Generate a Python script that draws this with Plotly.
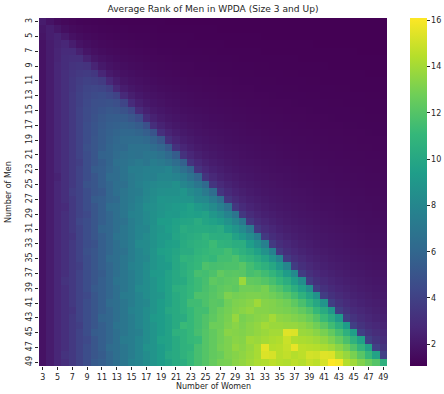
import plotly.graph_objects as go

women = [3, 4, 5, 6, 7, 8, 9, 10, 11, 12, 13, 14, 15, 16, 17, 18, 19, 20, 21, 22, 23, 24, 25, 26,
         27, 28, 29, 30, 31, 32, 33, 34, 35, 36, 37, 38, 39, 40, 41, 42, 43, 44, 45, 46, 47, 48, 49]
men = [3, 4, 5, 6, 7, 8, 9, 10, 11, 12, 13, 14, 15, 16, 17, 18, 19, 20, 21, 22, 23, 24, 25, 26,
       27, 28, 29, 30, 31, 32, 33, 34, 35, 36, 37, 38, 39, 40, 41, 42, 43, 44, 45, 46, 47, 48, 49]
colorbar_ticks = [2, 4, 6, 8, 10, 12, 14, 16]

# one row per number of men, values for women = 3..49
m03 = [2.2, 1.85, 1.53, 1.39, 1.31, 1.25, 1.22, 1.19, 1.17, 1.15, 1.14, 1.12, 1.12, 1.10, 1.10, 1.09, 1.09, 1.08, 1.08, 1.08, 1.07, 1.07, 1.07, 1.07, 1.06, 1.07, 1.06, 1.06, 1.08, 1.06, 1.07, 1.06, 1.06, 1.06, 1.07, 1.06, 1.06, 1.08, 1.06, 1.06, 1.07, 1.06, 1.06, 1.06, 1.07, 1.06, 1.06]
m04 = [2.0, 2.3, 2.01, 1.65, 1.48, 1.39, 1.32, 1.28, 1.25, 1.22, 1.2, 1.18, 1.16, 1.15, 1.14, 1.13, 1.12, 1.12, 1.11, 1.1, 1.1, 1.09, 1.09, 1.09, 1.08, 1.08, 1.08, 1.07, 1.07, 1.07, 1.07, 1.06, 1.07, 1.06, 1.06, 1.06, 1.07, 1.06, 1.06, 1.06, 1.06, 1.07, 1.06, 1.06, 1.06, 1.07, 1.06]
m05 = [1.9, 2.3, 2.5, 2.15, 1.75, 1.57, 1.46, 1.39, 1.33, 1.29, 1.26, 1.24, 1.22, 1.2, 1.18, 1.17, 1.16, 1.15, 1.14, 1.13, 1.13, 1.12, 1.12, 1.11, 1.11, 1.1, 1.1, 1.09, 1.09, 1.09, 1.08, 1.08, 1.08, 1.08, 1.07, 1.07, 1.07, 1.07, 1.07, 1.07, 1.06, 1.06, 1.07, 1.06, 1.06, 1.06, 1.06]
m06 = [1.8, 2.2, 2.5, 2.7, 2.27, 1.85, 1.65, 1.53, 1.44, 1.39, 1.34, 1.31, 1.28, 1.26, 1.23, 1.22, 1.2, 1.19, 1.18, 1.17, 1.16, 1.15, 1.14, 1.14, 1.13, 1.12, 1.12, 1.12, 1.11, 1.11, 1.1, 1.1, 1.1, 1.09, 1.09, 1.09, 1.09, 1.08, 1.08, 1.08, 1.08, 1.07, 1.07, 1.07, 1.07, 1.07, 1.07]
m07 = [1.8, 2.2, 2.6, 2.9, 2.9, 2.38, 1.93, 1.72, 1.59, 1.5, 1.44, 1.39, 1.35, 1.32, 1.29, 1.27, 1.25, 1.23, 1.22, 1.2, 1.19, 1.18, 1.17, 1.17, 1.16, 1.15, 1.15, 1.14, 1.13, 1.13, 1.12, 1.12, 1.12, 1.11, 1.11, 1.1, 1.1, 1.1, 1.1, 1.09, 1.09, 1.09, 1.09, 1.08, 1.08, 1.08, 1.08]
m08 = [1.8, 2.2, 2.6, 3.0, 3.1, 3.1, 2.47, 2.01, 1.79, 1.65, 1.55, 1.48, 1.43, 1.39, 1.35, 1.32, 1.3, 1.28, 1.26, 1.25, 1.23, 1.22, 1.21, 1.2, 1.19, 1.18, 1.17, 1.16, 1.16, 1.15, 1.15, 1.14, 1.14, 1.13, 1.13, 1.12, 1.12, 1.12, 1.11, 1.11, 1.11, 1.1, 1.1, 1.1, 1.1, 1.09, 1.09]
m09 = [1.8, 2.2, 2.7, 3.0, 3.3, 3.4, 3.3, 2.56, 2.08, 1.85, 1.7, 1.6, 1.53, 1.47, 1.42, 1.39, 1.36, 1.33, 1.31, 1.29, 1.27, 1.25, 1.24, 1.23, 1.22, 1.21, 1.2, 1.19, 1.18, 1.17, 1.17, 1.16, 1.16, 1.15, 1.15, 1.14, 1.14, 1.13, 1.13, 1.12, 1.12, 1.12, 1.12, 1.11, 1.11, 1.11, 1.1]
m10 = [1.8, 2.2, 2.7, 3.1, 3.4, 3.6, 3.7, 3.5, 2.64, 2.15, 1.91, 1.75, 1.65, 1.57, 1.51, 1.46, 1.42, 1.39, 1.36, 1.33, 1.31, 1.29, 1.28, 1.26, 1.25, 1.24, 1.23, 1.22, 1.21, 1.2, 1.19, 1.18, 1.18, 1.17, 1.17, 1.16, 1.16, 1.15, 1.15, 1.14, 1.14, 1.13, 1.13, 1.13, 1.12, 1.12, 1.12]
m11 = [1.8, 2.2, 2.7, 3.1, 3.5, 3.8, 4.0, 3.9, 3.7, 2.71, 2.25, 1.96, 1.8, 1.69, 1.61, 1.55, 1.49, 1.45, 1.42, 1.39, 1.36, 1.34, 1.32, 1.3, 1.28, 1.27, 1.26, 1.25, 1.24, 1.23, 1.22, 1.21, 1.2, 1.19, 1.19, 1.18, 1.17, 1.17, 1.16, 1.16, 1.16, 1.15, 1.15, 1.14, 1.14, 1.14, 1.13]
m12 = [1.8, 2.2, 2.7, 3.1, 3.5, 3.9, 4.2, 4.3, 4.2, 3.9, 2.78, 2.27, 2.01, 1.85, 1.73, 1.65, 1.58, 1.53, 1.48, 1.44, 1.41, 1.39, 1.36, 1.34, 1.32, 1.31, 1.29, 1.28, 1.27, 1.25, 1.25, 1.23, 1.23, 1.22, 1.21, 1.2, 1.2, 1.19, 1.18, 1.18, 1.17, 1.17, 1.16, 1.16, 1.16, 1.15, 1.15]
m13 = [1.8, 2.2, 2.7, 3.1, 3.6, 4.0, 4.3, 4.5, 4.6, 4.4, 4.1, 2.85, 2.33, 2.06, 1.89, 1.78, 1.69, 1.62, 1.56, 1.51, 1.47, 1.44, 1.41, 1.39, 1.36, 1.35, 1.33, 1.31, 1.3, 1.28, 1.27, 1.26, 1.25, 1.24, 1.23, 1.23, 1.22, 1.21, 1.2, 1.2, 1.19, 1.18, 1.18, 1.18, 1.17, 1.17, 1.16]
m14 = [1.8, 2.2, 2.7, 3.1, 3.6, 4.0, 4.4, 4.7, 4.8, 4.9, 4.7, 4.2, 2.9, 2.38, 2.1, 1.93, 1.81, 1.72, 1.65, 1.59, 1.54, 1.5, 1.47, 1.44, 1.41, 1.39, 1.37, 1.35, 1.33, 1.32, 1.3, 1.29, 1.28, 1.27, 1.26, 1.25, 1.24, 1.23, 1.23, 1.22, 1.21, 1.2, 1.2, 1.19, 1.19, 1.18, 1.18]
m15 = [1.8, 2.2, 2.7, 3.1, 3.6, 4.1, 4.5, 4.8, 5.0, 5.2, 5.1, 4.9, 4.4, 2.95, 2.42, 2.15, 1.97, 1.85, 1.75, 1.68, 1.62, 1.57, 1.53, 1.49, 1.46, 1.43, 1.41, 1.39, 1.37, 1.35, 1.33, 1.32, 1.31, 1.29, 1.28, 1.27, 1.26, 1.25, 1.25, 1.24, 1.23, 1.23, 1.22, 1.21, 1.2, 1.2, 1.19]
m16 = [1.8, 2.2, 2.7, 3.1, 3.6, 4.1, 4.5, 4.9, 5.2, 5.4, 5.5, 5.4, 5.1, 4.6, 3.0, 2.47, 2.19, 2.01, 1.88, 1.79, 1.71, 1.65, 1.6, 1.55, 1.52, 1.48, 1.45, 1.43, 1.4, 1.39, 1.37, 1.35, 1.34, 1.32, 1.31, 1.3, 1.29, 1.28, 1.27, 1.26, 1.25, 1.25, 1.24, 1.23, 1.22, 1.22, 1.21]
m17 = [1.8, 2.2, 2.7, 3.1, 3.6, 4.1, 4.6, 5.0, 5.3, 5.6, 5.7, 5.8, 5.7, 5.4, 4.8, 3.05, 2.51, 2.23, 2.05, 1.92, 1.82, 1.74, 1.68, 1.62, 1.58, 1.54, 1.51, 1.48, 1.45, 1.42, 1.4, 1.39, 1.37, 1.36, 1.34, 1.33, 1.31, 1.3, 1.29, 1.28, 1.27, 1.26, 1.26, 1.25, 1.24, 1.24, 1.23]
m18 = [1.8, 2.2, 2.7, 3.1, 3.6, 4.1, 4.6, 5.0, 5.4, 5.7, 5.9, 6.1, 6.1, 5.9, 5.6, 5.0, 3.1, 2.56, 2.27, 2.08, 1.95, 1.85, 1.77, 1.7, 1.65, 1.6, 1.56, 1.53, 1.5, 1.47, 1.44, 1.42, 1.4, 1.39, 1.37, 1.36, 1.34, 1.33, 1.32, 1.31, 1.3, 1.29, 1.28, 1.27, 1.26, 1.25, 1.25]
m19 = [1.8, 2.2, 2.7, 3.1, 3.6, 4.1, 4.6, 5.1, 5.4, 5.8, 6.1, 6.3, 6.4, 6.4, 6.2, 5.8, 5.2, 3.15, 2.6, 2.31, 2.11, 1.98, 1.88, 1.8, 1.73, 1.68, 1.63, 1.58, 1.55, 1.52, 1.49, 1.46, 1.44, 1.42, 1.4, 1.39, 1.37, 1.36, 1.34, 1.33, 1.32, 1.31, 1.3, 1.29, 1.28, 1.27, 1.27]
m20 = [1.8, 2.2, 2.7, 3.1, 3.6, 4.1, 4.8, 5.1, 5.5, 5.9, 6.2, 6.2, 6.7, 6.7, 6.7, 6.4, 6.0, 5.3, 3.2, 2.64, 2.34, 2.15, 2.01, 1.91, 1.83, 1.75, 1.7, 1.65, 1.6, 1.57, 1.54, 1.51, 1.48, 1.46, 1.44, 1.42, 1.4, 1.39, 1.37, 1.36, 1.35, 1.33, 1.32, 1.31, 1.3, 1.29, 1.29]
m21 = [1.8, 2.2, 2.7, 3.1, 3.6, 4.1, 4.6, 5.1, 5.8, 5.9, 6.3, 6.6, 6.8, 6.7, 7.0, 7.0, 6.7, 6.2, 5.5, 3.25, 2.67, 2.38, 2.18, 2.04, 1.93, 1.85, 1.78, 1.72, 1.67, 1.63, 1.59, 1.56, 1.53, 1.5, 1.48, 1.45, 1.44, 1.41, 1.4, 1.39, 1.37, 1.36, 1.35, 1.34, 1.33, 1.32, 1.31]
m22 = [1.8, 2.2, 2.7, 3.1, 3.6, 3.9, 4.6, 5.1, 5.5, 5.9, 6.6, 6.7, 7.0, 7.2, 7.0, 7.4, 7.2, 6.9, 6.4, 5.7, 3.28, 2.71, 2.41, 2.21, 2.07, 1.96, 1.87, 1.8, 1.74, 1.69, 1.65, 1.61, 1.57, 1.55, 1.52, 1.49, 1.47, 1.45, 1.43, 1.42, 1.4, 1.39, 1.37, 1.36, 1.35, 1.34, 1.33]
m23 = [1.8, 2.2, 2.7, 3.1, 3.6, 4.1, 4.6, 5.4, 5.6, 6.0, 6.4, 6.8, 7.4, 7.4, 7.6, 7.7, 7.7, 7.9, 7.2, 6.6, 5.9, 3.31, 2.75, 2.44, 2.25, 2.1, 1.98, 1.89, 1.83, 1.77, 1.71, 1.67, 1.63, 1.6, 1.56, 1.54, 1.51, 1.49, 1.47, 1.45, 1.43, 1.41, 1.4, 1.39, 1.37, 1.36, 1.35]
m24 = [1.8, 2.2, 2.5, 3.1, 3.6, 4.1, 4.6, 5.1, 5.6, 6.3, 6.4, 6.8, 7.2, 7.5, 7.7, 7.6, 8.0, 8.0, 7.8, 7.4, 6.8, 6.0, 3.35, 2.78, 2.47, 2.27, 2.12, 2.01, 1.92, 1.85, 1.79, 1.73, 1.69, 1.65, 1.61, 1.58, 1.55, 1.53, 1.5, 1.48, 1.46, 1.44, 1.43, 1.41, 1.4, 1.39, 1.37]
m25 = [1.8, 2.2, 2.7, 3.1, 3.6, 4.1, 4.9, 5.1, 5.6, 6.0, 6.5, 6.6, 7.2, 7.6, 7.9, 8.1, 8.3, 8.3, 8.6, 8.0, 7.6, 7.0, 6.2, 3.38, 2.81, 2.5, 2.3, 2.15, 2.03, 1.94, 1.87, 1.81, 1.75, 1.71, 1.67, 1.63, 1.6, 1.57, 1.54, 1.52, 1.5, 1.48, 1.46, 1.44, 1.42, 1.41, 1.4]
m26 = [1.8, 2.2, 2.7, 3.1, 3.8, 4.1, 4.6, 5.1, 5.3, 6.0, 6.5, 6.9, 7.3, 7.4, 8.0, 8.3, 8.5, 8.6, 8.6, 8.9, 8.3, 7.9, 7.2, 6.4, 3.41, 2.85, 2.53, 2.33, 2.18, 2.06, 1.96, 1.89, 1.83, 1.78, 1.73, 1.69, 1.65, 1.62, 1.58, 1.56, 1.54, 1.51, 1.49, 1.47, 1.45, 1.44, 1.42]
m27 = [1.8, 2.2, 2.7, 3.1, 3.6, 4.1, 4.6, 5.4, 5.6, 6.0, 6.2, 7.0, 7.3, 7.7, 8.1, 8.4, 8.9, 8.8, 8.9, 8.9, 8.8, 8.2, 8.1, 7.4, 6.6, 3.45, 2.87, 2.56, 2.36, 2.2, 2.08, 1.98, 1.91, 1.85, 1.79, 1.75, 1.7, 1.67, 1.63, 1.6, 1.57, 1.55, 1.53, 1.51, 1.49, 1.47, 1.45]
m28 = [1.8, 2.2, 2.7, 2.9, 3.6, 4.1, 4.6, 5.1, 5.6, 6.4, 6.5, 7.0, 7.4, 7.8, 8.4, 8.5, 8.8, 9.0, 9.2, 9.3, 9.6, 9.1, 8.8, 8.3, 7.6, 6.7, 3.48, 2.9, 2.58, 2.38, 2.22, 2.1, 2.01, 1.93, 1.87, 1.81, 1.76, 1.72, 1.68, 1.65, 1.62, 1.59, 1.56, 1.54, 1.52, 1.5, 1.48]
m29 = [1.8, 2.2, 2.7, 3.1, 3.6, 4.1, 4.4, 5.1, 5.6, 6.0, 6.5, 7.0, 7.7, 7.8, 8.2, 8.6, 8.9, 9.2, 9.1, 9.5, 9.6, 9.5, 9.7, 9.0, 8.5, 7.8, 6.9, 3.52, 2.93, 2.61, 2.4, 2.25, 2.13, 2.03, 1.95, 1.89, 1.83, 1.78, 1.74, 1.7, 1.66, 1.63, 1.6, 1.58, 1.56, 1.53, 1.51]
m30 = [1.8, 2.2, 2.7, 3.1, 3.6, 4.3, 4.6, 5.1, 5.6, 6.0, 6.5, 6.7, 7.4, 7.8, 8.2, 8.6, 9.3, 9.3, 9.6, 9.8, 9.9, 10.3, 9.8, 9.6, 9.3, 8.7, 8.0, 7.1, 3.55, 2.95, 2.64, 2.42, 2.27, 2.15, 2.05, 1.97, 1.91, 1.85, 1.8, 1.75, 1.71, 1.68, 1.65, 1.62, 1.59, 1.57, 1.55]
m31 = [1.8, 2.2, 2.7, 3.1, 3.6, 4.1, 4.6, 5.1, 5.9, 6.0, 6.5, 7.0, 7.4, 7.9, 8.0, 8.7, 9.0, 9.4, 9.7, 10.3, 10.1, 10.2, 10.2, 10.1, 10.3, 9.5, 8.9, 8.2, 7.2, 3.58, 2.98, 2.67, 2.45, 2.29, 2.17, 2.07, 1.99, 1.92, 1.87, 1.82, 1.77, 1.73, 1.7, 1.66, 1.63, 1.61, 1.58]
m32 = [1.8, 2.2, 2.7, 3.1, 3.4, 4.1, 4.6, 5.1, 5.6, 6.0, 6.8, 7.0, 7.4, 7.9, 8.3, 8.7, 9.1, 9.2, 9.8, 10.1, 10.3, 10.5, 10.9, 10.5, 10.4, 10.5, 9.7, 9.1, 8.4, 7.4, 3.6, 3.0, 2.69, 2.47, 2.31, 2.19, 2.09, 2.01, 1.94, 1.88, 1.83, 1.79, 1.75, 1.71, 1.68, 1.65, 1.62]
m33 = [1.8, 2.2, 2.7, 3.1, 3.6, 4.1, 4.6, 4.9, 5.6, 6.0, 6.5, 7.0, 7.4, 8.2, 8.3, 8.7, 9.1, 9.5, 9.6, 10.2, 10.5, 10.7, 10.8, 11.3, 10.8, 10.7, 10.4, 10.4, 9.4, 8.6, 7.6, 3.63, 3.04, 2.71, 2.5, 2.33, 2.21, 2.1, 2.02, 1.96, 1.9, 1.85, 1.8, 1.76, 1.72, 1.69, 1.66]
m34 = [1.8, 2.2, 2.7, 3.1, 3.6, 4.1, 4.8, 5.1, 5.6, 6.0, 6.5, 6.7, 7.4, 7.9, 8.3, 8.8, 9.5, 9.6, 9.9, 10.3, 10.3, 10.8, 11.0, 11.2, 11.2, 11.5, 11.0, 10.6, 10.2, 9.6, 8.7, 7.7, 3.65, 3.05, 2.73, 2.51, 2.36, 2.23, 2.13, 2.05, 1.97, 1.92, 1.87, 1.82, 1.77, 1.74, 1.7]
m35 = [1.8, 2.2, 2.7, 3.1, 3.6, 4.1, 4.6, 5.1, 5.6, 6.3, 6.5, 7.0, 7.4, 7.9, 8.1, 8.8, 9.2, 9.6, 10.0, 10.8, 10.7, 11.0, 11.2, 11.0, 11.5, 11.5, 11.8, 11.2, 10.9, 10.4, 9.8, 8.9, 7.9, 3.67, 3.08, 2.76, 2.53, 2.38, 2.25, 2.15, 2.06, 1.99, 1.93, 1.88, 1.83, 1.79, 1.75]
m36 = [1.8, 2.2, 2.7, 3.1, 3.6, 3.9, 4.6, 5.1, 5.6, 6.0, 6.5, 7.0, 7.7, 7.9, 8.4, 8.8, 9.2, 9.3, 10.0, 10.4, 10.8, 11.1, 11.8, 11.6, 11.7, 11.8, 11.8, 12.1, 11.5, 11.1, 10.6, 10.0, 9.1, 8.0, 3.7, 3.1, 2.78, 2.56, 2.4, 2.27, 2.17, 2.08, 2.01, 1.95, 1.89, 1.85, 1.81]
m37 = [1.8, 2.2, 2.7, 3.1, 3.6, 4.1, 4.6, 5.1, 5.4, 6.0, 6.5, 7.0, 7.4, 7.9, 8.4, 9.1, 9.2, 9.7, 10.1, 10.5, 10.9, 11.6, 11.5, 11.8, 12.4, 12.1, 12.2, 12.1, 11.6, 11.8, 11.4, 10.9, 10.2, 9.3, 8.2, 3.73, 3.13, 2.8, 2.57, 2.42, 2.29, 2.19, 2.1, 2.03, 1.96, 1.91, 1.86]
m38 = [1.8, 2.2, 2.7, 3.3, 3.6, 4.1, 4.6, 5.1, 5.6, 6.0, 6.8, 7.0, 7.4, 7.9, 8.4, 8.8, 9.3, 9.7, 10.1, 10.2, 10.9, 11.3, 11.6, 12.3, 12.1, 12.3, 12.4, 13.8, 12.4, 12.3, 12.0, 11.6, 11.1, 10.4, 9.5, 8.4, 3.75, 3.15, 2.82, 2.6, 2.44, 2.31, 2.2, 2.11, 2.04, 1.98, 1.92]
m39 = [1.8, 2.2, 2.7, 3.1, 3.6, 4.1, 4.6, 5.3, 5.6, 6.0, 6.5, 7.0, 7.4, 8.2, 8.4, 8.8, 9.3, 9.7, 10.5, 10.6, 11.0, 11.3, 11.7, 12.0, 12.3, 12.5, 12.3, 12.8, 12.8, 12.7, 13.0, 12.3, 11.9, 11.3, 10.5, 9.6, 8.5, 3.78, 3.18, 2.85, 2.62, 2.46, 2.33, 2.22, 2.14, 2.06, 1.99]
m40 = [1.8, 2.2, 2.7, 3.1, 3.6, 4.1, 4.4, 5.1, 5.6, 6.0, 6.5, 7.3, 7.4, 7.9, 8.4, 8.8, 9.0, 9.7, 10.2, 10.6, 11.0, 11.8, 11.8, 12.1, 12.4, 13.1, 12.9, 13.0, 13.1, 13.1, 13.0, 12.8, 12.5, 12.1, 11.5, 10.7, 9.8, 8.7, 3.81, 3.2, 2.86, 2.64, 2.47, 2.34, 2.24, 2.15, 2.08]
m41 = [1.8, 2.2, 2.7, 3.1, 3.6, 4.1, 4.6, 5.1, 5.6, 6.3, 6.5, 7.0, 7.4, 7.9, 8.1, 8.8, 9.3, 9.7, 10.2, 10.6, 11.4, 11.4, 11.8, 12.2, 12.1, 12.8, 13.1, 13.2, 13.4, 13.9, 13.3, 13.2, 13.0, 12.8, 12.3, 11.7, 10.9, 10.0, 8.8, 3.83, 3.23, 2.88, 2.66, 2.49, 2.36, 2.25, 2.17]
m42 = [1.8, 2.2, 2.7, 3.1, 3.4, 4.1, 4.6, 5.1, 5.6, 6.0, 6.5, 7.0, 7.7, 7.9, 8.4, 8.8, 9.3, 10.0, 10.2, 10.6, 11.1, 11.5, 11.5, 12.2, 12.6, 12.9, 13.2, 13.4, 13.6, 13.3, 13.3, 13.2, 13.1, 13.0, 12.8, 12.4, 11.9, 11.1, 10.2, 9.0, 3.85, 3.25, 2.9, 2.67, 2.51, 2.38, 2.27]
m43 = [1.8, 2.2, 2.7, 3.1, 3.6, 4.1, 4.6, 5.1, 5.9, 6.0, 6.5, 7.0, 7.4, 7.9, 8.4, 9.1, 9.3, 9.7, 10.2, 10.3, 11.1, 11.5, 11.9, 12.3, 12.7, 13.0, 13.7, 13.0, 13.2, 13.4, 13.5, 14.0, 13.5, 13.4, 13.2, 13.0, 12.6, 12.0, 11.2, 10.3, 9.2, 3.86, 3.29, 2.93, 2.69, 2.52, 2.39]
m44 = [1.8, 2.2, 2.7, 3.1, 3.6, 3.9, 4.6, 5.1, 5.6, 6.0, 6.8, 7.0, 7.4, 7.9, 8.4, 8.8, 9.3, 9.7, 10.2, 11.2, 11.1, 11.5, 11.9, 12.7, 12.7, 13.1, 13.4, 13.1, 13.4, 13.6, 14.0, 13.8, 13.8, 13.7, 13.7, 13.5, 13.2, 12.8, 12.2, 11.4, 10.5, 9.3, 3.9, 3.3, 2.95, 2.71, 2.54]
m45 = [1.8, 2.2, 2.7, 3.1, 3.6, 4.1, 4.6, 5.4, 5.6, 6.0, 6.5, 7.0, 7.4, 7.6, 8.4, 8.8, 9.3, 9.7, 10.6, 10.7, 11.1, 11.6, 12.0, 12.4, 12.8, 13.4, 13.3, 13.2, 13.4, 13.6, 13.8, 14.0, 14.0, 15.4, 15.3, 13.8, 13.7, 13.4, 13.0, 12.4, 11.6, 10.6, 9.5, 3.92, 3.31, 2.96, 2.72]
m46 = [1.8, 2.2, 2.7, 3.1, 3.6, 4.1, 4.4, 5.1, 5.6, 6.0, 6.5, 7.3, 7.4, 7.9, 8.4, 8.8, 9.6, 9.7, 10.2, 10.7, 11.1, 11.2, 12.0, 12.4, 12.8, 13.1, 13.4, 13.3, 13.9, 13.8, 14.0, 14.2, 14.3, 14.9, 14.3, 14.2, 14.1, 13.9, 13.6, 13.1, 12.5, 11.7, 10.7, 9.6, 3.95, 3.33, 2.98]
m47 = [1.8, 2.2, 2.7, 3.1, 3.6, 4.1, 4.6, 5.1, 5.6, 6.3, 6.5, 7.0, 7.4, 7.9, 8.7, 8.8, 9.3, 9.7, 10.2, 10.7, 10.8, 11.6, 12.0, 12.4, 12.9, 13.1, 13.6, 13.4, 13.7, 14.1, 15.5, 14.4, 14.5, 14.8, 15.6, 14.6, 14.5, 14.4, 14.2, 13.9, 13.4, 12.8, 11.9, 10.9, 9.7, 3.97, 3.35]
m48 = [1.8, 2.2, 2.7, 3.3, 3.6, 4.1, 4.6, 5.1, 5.4, 6.0, 6.5, 7.0, 7.4, 7.9, 8.4, 8.8, 9.3, 10.0, 10.2, 10.7, 11.1, 11.6, 12.0, 12.4, 12.6, 13.1, 13.3, 13.5, 13.8, 14.1, 15.3, 15.2, 14.5, 14.7, 14.4, 14.6, 15.1, 15.0, 15.4, 15.3, 14.2, 13.7, 13.0, 12.1, 11.1, 9.7, 3.99]
m49 = [1.8, 2.2, 2.7, 3.1, 3.6, 4.1, 4.6, 5.3, 5.6, 6.0, 6.5, 7.0, 7.7, 7.9, 8.4, 8.8, 9.3, 9.7, 10.2, 10.4, 11.1, 11.6, 12.0, 12.5, 12.9, 13.0, 13.4, 13.6, 13.9, 14.2, 14.3, 14.6, 14.4, 14.3, 14.6, 14.4, 14.8, 14.6, 15.2, 16.1, 15.9, 14.4, 13.9, 13.2, 12.6, 12.0, 10.6]

avg_rank = [m03, m04, m05, m06, m07, m08, m09, m10, m11, m12, m13, m14, m15, m16, m17, m18,
            m19, m20, m21, m22, m23, m24, m25, m26, m27, m28, m29, m30, m31, m32, m33, m34,
            m35, m36, m37, m38, m39, m40, m41, m42, m43, m44, m45, m46, m47, m48, m49]

bad = [(men[i], len(r)) for i, r in enumerate(avg_rank) if len(r) != len(women)]
assert not bad, f"row length problems: {bad}"

zmin = min(min(r) for r in avg_rank)
zmax = max(max(r) for r in avg_rank)

FONT = "DejaVu Sans"
TXT = "#262626"

fig = go.Figure(go.Heatmap(
    x=women, y=men, z=avg_rank,
    colorscale="Viridis", zmin=zmin, zmax=zmax,
    colorbar=dict(
        thickness=17, len=1, lenmode="fraction", x=1.065, xanchor="left",
        y=0.5, yanchor="middle", ypad=0, xpad=0, outlinewidth=0,
        tickmode="array", tickvals=colorbar_ticks, ticks="outside", ticklen=3,
        tickwidth=0.8, tickcolor=TXT, tickfont=dict(family=FONT, size=8, color=TXT),
    ),
))

fig.update_layout(
    width=444, height=394,
    margin=dict(l=39, r=57, t=18, b=28, autoexpand=False),
    paper_bgcolor="white", plot_bgcolor="white",
    font=dict(family=FONT, color=TXT),
    title=dict(text="Average Rank of Men in WPDA (Size 3 and Up)", x=0.5, xref="paper",
               xanchor="center", y=1 - 9 / 394, yref="container", yanchor="middle",
               font=dict(family=FONT, size=9.1, color=TXT)),
    annotations=[
        dict(text="Number of Women", x=0.5, xref="paper", y=-20 / 348, yref="paper",
             xanchor="center", yanchor="middle", showarrow=False,
             font=dict(family=FONT, size=8, color=TXT)),
        dict(text="Number of Men", x=-31 / 348, xref="paper", y=0.5, yref="paper",
             xanchor="center", yanchor="middle", textangle=-90, showarrow=False,
             font=dict(family=FONT, size=8, color=TXT)),
    ],
)
fig.update_xaxes(tickmode="array", tickvals=women[::2], ticks="outside", ticklen=3,
                 tickwidth=0.8, tickcolor=TXT, tickfont=dict(family=FONT, size=8, color=TXT),
                 showgrid=False, zeroline=False, showline=False, automargin=False,
                 range=[women[0] - 0.5, women[-1] + 0.5])
fig.update_yaxes(tickmode="array", tickvals=men[::2], ticks="outside", ticklen=3,
                 tickwidth=0.8, tickcolor=TXT, tickangle=-90, automargin=False,
                 tickfont=dict(family=FONT, size=8, color=TXT),
                 showgrid=False, zeroline=False, showline=False,
                 range=[men[-1] + 0.5, men[0] - 0.5])

# remove the browser's default page margin so the 444x394 figure fills the window exactly
fig.write_html("out.html", config={"displayModeBar": False},
               post_script="document.body.style.margin='0';document.body.style.overflow='hidden';")
